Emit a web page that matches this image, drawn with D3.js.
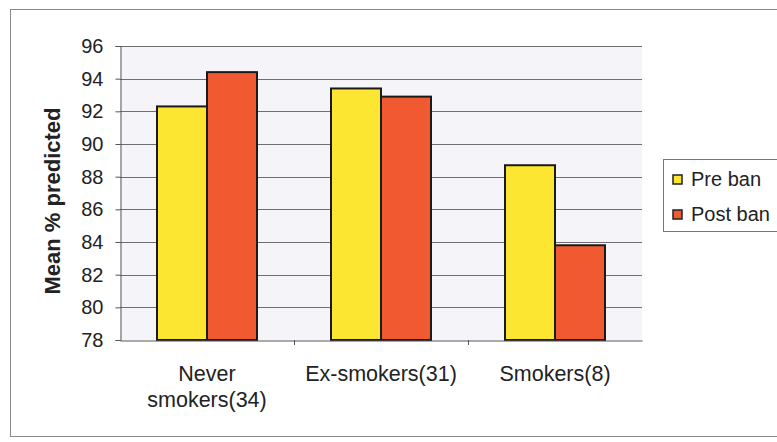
<!DOCTYPE html>
<html>
<head>
<meta charset="utf-8">
<script src="https://cdn.jsdelivr.net/npm/d3@7"></script>
<style>
  body { margin: 0; background: #fff; }
  svg { display: block; font-family: "Liberation Sans", Arial, sans-serif; }
</style>
</head>
<body>
<svg id="chart" width="777" height="442"></svg>
<script>
// Lung function by smoking status, before and after the ban
const categories = ["Never smokers(34)", "Ex-smokers(31)", "Smokers(8)"];
const categoryLines = [["Never", "smokers(34)"], ["Ex-smokers(31)"], ["Smokers(8)"]];
const seriesNames = ["Pre ban", "Post ban"];
const preBan = [92.3, 93.4, 88.7];
const postBan = [94.4, 92.9, 83.8];
const yTicks = [78, 80, 82, 84, 86, 88, 90, 92, 94, 96];
const colors = ["#fde631", "#f15a30"];

const svg = d3.select("#chart");

// outer frame
svg.append("rect").attr("x", 10.5).attr("y", 9.5).attr("width", 775).attr("height", 427)
  .attr("fill", "#fff").attr("stroke", "#8a8a8a").attr("stroke-width", 1);

const plot = { left: 120, right: 642, top: 46, bottom: 340 };

const x0 = d3.scaleBand().domain(categories).range([plot.left, plot.right]).paddingInner(0).paddingOuter(0);
const x1 = d3.scaleBand().domain(seriesNames).range([0, x0.bandwidth()]).paddingInner(0).paddingOuter(0.74);
const y = d3.scaleLinear().domain([78, 96]).range([plot.bottom, plot.top]);

// plot background
svg.append("rect").attr("x", plot.left).attr("y", plot.top)
  .attr("width", plot.right - plot.left).attr("height", plot.bottom - plot.top)
  .attr("fill", "#f5f5f9");

// gridlines
svg.append("g").selectAll("line").data(yTicks.slice(1)).join("line")
  .attr("x1", plot.left).attr("x2", plot.right)
  .attr("y1", d => Math.round(y(d)) + 0.5).attr("y2", d => Math.round(y(d)) + 0.5)
  .attr("stroke", "#6e6e6e").attr("stroke-width", 1);

// bars
const rows = categories.map((c, i) => ({ c, vals: [preBan[i], postBan[i]] }));
const groups = svg.append("g").selectAll("g").data(rows).join("g")
  .attr("transform", d => `translate(${x0(d.c)},0)`);
groups.selectAll("rect").data(d => d.vals.map((v, j) => ({ v, s: seriesNames[j], j })))
  .join("rect")
  .attr("x", d => x1(d.s))
  .attr("y", d => y(d.v))
  .attr("width", x1.bandwidth())
  .attr("height", d => y(78) - y(d.v))
  .attr("fill", d => colors[d.j])
  .attr("stroke", "#1a1a1a").attr("stroke-width", 2);

// y axis
const yAxis = d3.axisLeft(y).tickValues(yTicks).tickSize(5).tickPadding(12).tickFormat(d3.format("d"));
const ya = svg.append("g").attr("transform", `translate(${plot.left + 0.5},0)`).call(yAxis);
ya.select(".domain").attr("stroke", "#555");
ya.selectAll(".tick line").attr("stroke", "#555");
ya.selectAll(".tick text").attr("font-size", 20).attr("fill", "#222")
  .attr("font-family", "'Liberation Sans', Arial, sans-serif");

// x axis
const xa = svg.append("g").attr("transform", `translate(0,${plot.bottom + 0.5})`)
  .call(d3.axisBottom(x0).tickSize(0).tickFormat(""));
xa.select(".domain").attr("stroke", "#555");
svg.append("g").selectAll("line").data(categories.slice(1)).join("line")
  .attr("x1", d => Math.round(x0(d)) + 0.5).attr("x2", d => Math.round(x0(d)) + 0.5)
  .attr("y1", plot.bottom).attr("y2", plot.bottom + 5)
  .attr("stroke", "#555");

// category labels
const labels = svg.append("g").selectAll("text").data(categories).join("text")
  .attr("x", d => x0(d) + x0.bandwidth() / 2)
  .attr("y", 381)
  .attr("text-anchor", "middle")
  .attr("font-size", 21.5).attr("fill", "#222");
labels.each(function (d, i) {
  d3.select(this).selectAll("tspan").data(categoryLines[i]).join("tspan")
    .attr("x", x0(d) + x0.bandwidth() / 2)
    .attr("dy", (t, k) => k === 0 ? 0 : 26)
    .text(t => t);
});

// y axis title
svg.append("text")
  .attr("transform", "translate(60,201) rotate(-90)")
  .attr("text-anchor", "middle")
  .attr("font-size", 22).attr("font-weight", "bold").attr("fill", "#222")
  .text("Mean % predicted");

// legend
const legend = svg.append("g");
legend.append("rect").attr("x", 663.5).attr("y", 159.5).attr("width", 130).attr("height", 72)
  .attr("fill", "#fff").attr("stroke", "#777");
seriesNames.forEach((name, i) => {
  const top = 175 + i * 35;
  legend.append("rect").attr("x", 673).attr("y", top).attr("width", 9).attr("height", 9)
    .attr("fill", colors[i]).attr("stroke", "#222").attr("stroke-width", 1.5);
  legend.append("text").attr("x", 691).attr("y", top + 11)
    .attr("font-size", 20).attr("fill", "#222").text(name);
});
</script>
</body>
</html>
